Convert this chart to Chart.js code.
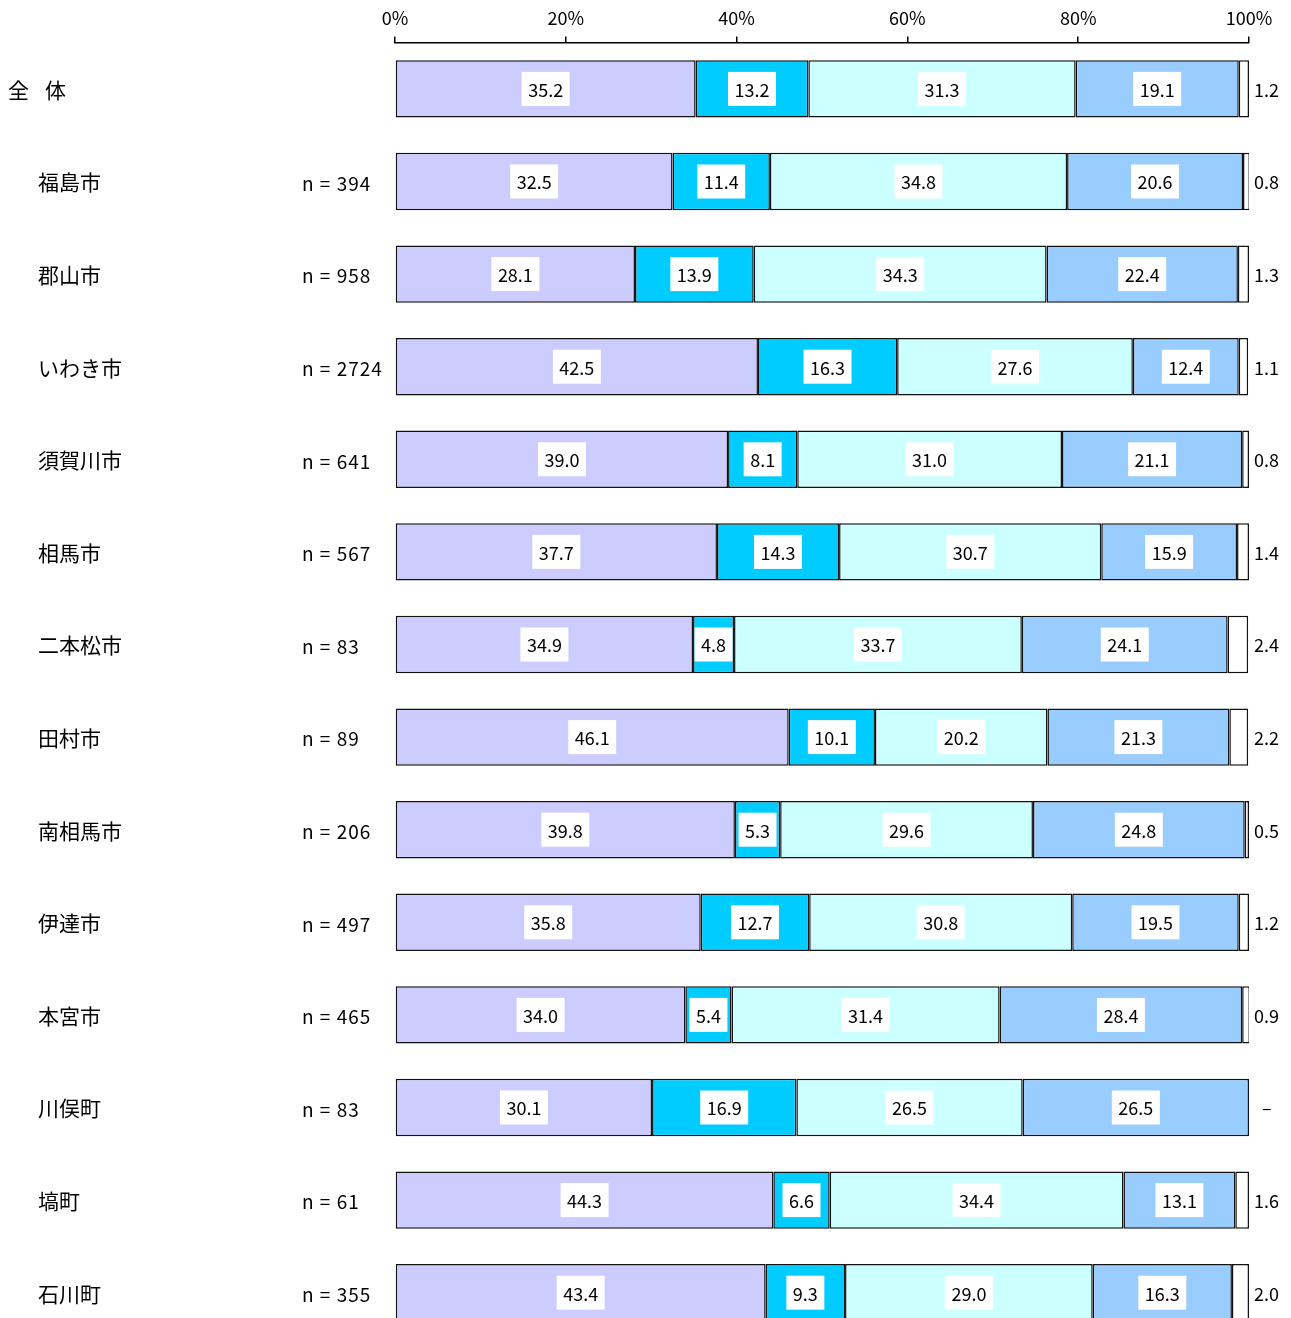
<!DOCTYPE html>
<html>
<head>
<meta charset="utf-8">
<script src="https://cdn.jsdelivr.net/npm/chart.js@4"></script>
<style>
  html, body { margin: 0; padding: 0; background: #fff; overflow: hidden; }
  #wrap { width: 1291px; height: 1339px; position: relative; }
</style>
</head>
<body>
<div id="wrap"><canvas id="chart"></canvas></div>
<script>
// 地域別の回答割合（%）
const areas = ['全 体', '福島市', '郡山市', 'いわき市', '須賀川市', '相馬市', '二本松市', '田村市',
  '南相馬市', '伊達市', '本宮市', '川俣町', '塙町', '石川町'];
const sampleN = [null, 394, 958, 2724, 641, 567, 83, 89, 206, 497, 465, 83, 61, 355];

const seriesA = [35.2, 32.5, 28.1, 42.5, 39.0, 37.7, 34.9, 46.1, 39.8, 35.8, 34.0, 30.1, 44.3, 43.4];
const seriesB = [13.2, 11.4, 13.9, 16.3, 8.1, 14.3, 4.8, 10.1, 5.3, 12.7, 5.4, 16.9, 6.6, 9.3];
const seriesC = [31.3, 34.8, 34.3, 27.6, 31.0, 30.7, 33.7, 20.2, 29.6, 30.8, 31.4, 26.5, 34.4, 29.0];
const seriesD = [19.1, 20.6, 22.4, 12.4, 21.1, 15.9, 24.1, 21.3, 24.8, 19.5, 28.4, 26.5, 13.1, 16.3];
const seriesE = [1.2, 0.8, 1.3, 1.1, 0.8, 1.4, 2.4, 2.2, 0.5, 1.2, 0.9, 0, 1.6, 2.0];

const tickValues = [0, 20, 40, 60, 80, 100];

const COLORS = ['#CCCCFF', '#00CCFF', '#CCFFFF', '#99CCFF', '#FFFFFF'];
const FONT = '"Noto Sans CJK JP", "Noto Sans", sans-serif';

// 区分ラベル・n数・値ラベルを描く
const labelPlugin = {
  id: 'labelPlugin',
  afterDatasetsDraw(chart) {
    const ctx = chart.ctx;
    ctx.save();
    ctx.textBaseline = 'middle';
    ctx.font = '18px ' + FONT;
    chart.data.datasets.forEach((ds, di) => {
      const meta = chart.getDatasetMeta(di);
      meta.data.forEach((bar, i) => {
        const v = ds.data[i];
        const txt = v.toFixed(1);
        if (di === 4) {
          ctx.fillStyle = '#000';
          ctx.textAlign = 'left';
          ctx.fillText(v === 0 ? '–' : txt, chart.chartArea.right + (v === 0 ? 13 : 5), bar.y + 1);
          return;
        }
        const cx = (bar.x + bar.base) / 2;
        const w = ctx.measureText(txt).width + 13;
        ctx.fillStyle = '#fff';
        ctx.fillRect(cx - w / 2, bar.y - 17, w, 34);
        ctx.fillStyle = '#000';
        ctx.textAlign = 'center';
        ctx.fillText(txt, cx, bar.y + 1);
      });
    });
    // 左側の地域名と n 数
    const meta0 = chart.getDatasetMeta(0);
    ctx.textAlign = 'left';
    ctx.fillStyle = '#000';
    meta0.data.forEach((bar, i) => {
      ctx.font = '21px ' + FONT;
      ctx.letterSpacing = '0px';
      if (i === 0) {
        const parts = areas[0].split(' ');
        ctx.fillText(parts[0], 8, bar.y + 1);
        ctx.fillText(parts[1], 45, bar.y + 1);
      } else {
        ctx.fillText(areas[i], 38, bar.y + 1);
      }
      if (sampleN[i] !== null) {
        ctx.font = '19px ' + FONT;
        ctx.letterSpacing = '1px';
        ctx.fillText('n = ' + sampleN[i], 302, bar.y + 2);
      }
    });
    ctx.restore();
  }
};

const datasets = [seriesA, seriesB, seriesC, seriesD, seriesE].map((d, i) => ({
  label: 'S' + (i + 1),
  data: d,
  backgroundColor: COLORS[i],
  borderColor: '#111',
  borderWidth: 1.5,
  borderSkipped: false,
  barPercentage: 0.62,
  categoryPercentage: 1
}));

new Chart(document.getElementById('chart'), {
  type: 'bar',
  data: { labels: areas, datasets },
  options: {
    indexAxis: 'y',
    responsive: true,
    maintainAspectRatio: false,
    animation: false,
    layout: { padding: { left: 395, right: 42, top: -1, bottom: 0 } },
    plugins: {
      legend: { display: false },
      tooltip: { enabled: false }
    },
    scales: {
      x: {
        position: 'top',
        stacked: true,
        min: 0,
        max: 100,
        afterBuildTicks: axis => { axis.ticks = tickValues.map(v => ({ value: v })); },
        ticks: {
          callback: v => v + '%',
          color: '#000',
          font: { family: FONT, size: 18 },
          padding: 8,
          maxRotation: 0
        },
        grid: { drawOnChartArea: false, drawTicks: true, tickLength: 6, color: '#000', lineWidth: 1.5 },
        border: { display: true, color: '#000', width: 1.5 }
      },
      y: {
        stacked: true,
        display: false
      }
    }
  },
  plugins: [labelPlugin]
});
</script>
</body>
</html>
